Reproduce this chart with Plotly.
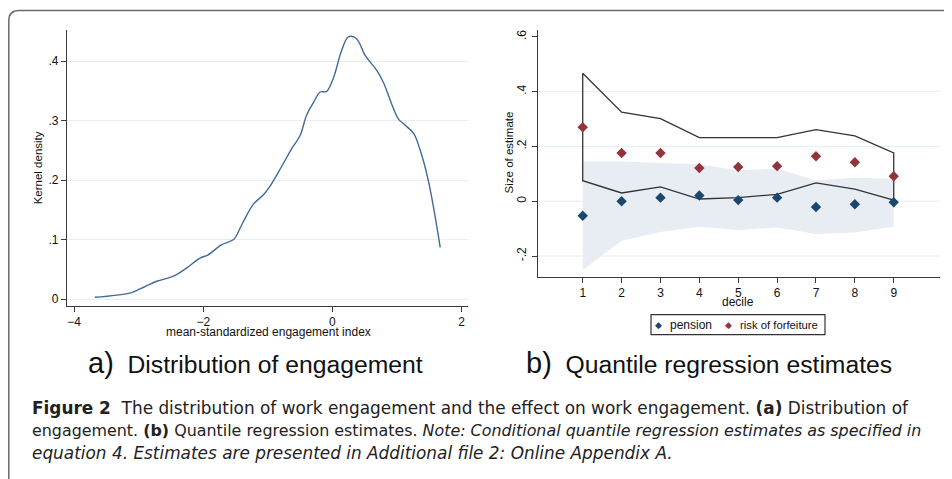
import plotly.graph_objects as go

# ---------------- data ----------------
# Panel a: kernel density of mean-standardized engagement index
kd_x = [-3.68, -3.14, -2.98, -2.72, -2.47, -2.26, -2.05, -1.93, -1.72, -1.53, -1.48,
        -1.38, -1.22, -1.07, -0.97, -0.79, -0.63, -0.50, -0.40, -0.29, -0.19, -0.09,
        0.02, 0.14, 0.25, 0.37, 0.51, 0.69, 0.79, 1.02, 1.12, 1.26, 1.36, 1.49, 1.67]
kd_y = [0.003, 0.010, 0.017, 0.030, 0.038, 0.052, 0.069, 0.074, 0.091, 0.100, 0.108,
        0.130, 0.160, 0.175, 0.189, 0.222, 0.253, 0.275, 0.309, 0.331, 0.348, 0.349,
        0.373, 0.417, 0.441, 0.438, 0.409, 0.384, 0.364, 0.303, 0.293, 0.278, 0.250,
        0.197, 0.087]
kd_xticks = [-4, -2, 0, 2]
kd_yticks = [0, 0.1, 0.2, 0.3, 0.4]
kd_yticklabels = ["0", ".1", ".2", ".3", ".4"]

# Panel b: quantile regression estimates by decile
deciles = [1, 2, 3, 4, 5, 6, 7, 8, 9]
pension = [-0.053, 0.000, 0.013, 0.021, 0.004, 0.013, -0.021, -0.011, -0.004]
pension_lo = [-0.251, -0.144, -0.112, -0.093, -0.105, -0.096, -0.120, -0.114, -0.093]
pension_hi = [0.145, 0.145, 0.139, 0.135, 0.113, 0.119, 0.076, 0.086, 0.082]
forfeit = [0.270, 0.176, 0.176, 0.121, 0.125, 0.128, 0.164, 0.142, 0.091]
forfeit_lo = [0.075, 0.030, 0.052, 0.008, 0.013, 0.025, 0.067, 0.044, 0.004]
forfeit_hi = [0.467, 0.325, 0.301, 0.232, 0.232, 0.232, 0.261, 0.238, 0.176]
qr_yticks = [-0.2, 0, 0.2, 0.4, 0.6]
qr_yticklabels = ["-.2", "0", ".2", ".4", ".6"]
qr_grid = [-0.2, 0, 0.2, 0.4]

series_names = ["pension", "risk of forfeiture"]
panel_titles = ["Distribution of engagement", "Quantile regression estimates"]

# ---------------- styling ----------------
# the page body has an 8px margin, so the figure starts at page pixel (8, 8)
OFF = 8
W, H = 944, 471
def px(x):
    return (x - OFF) / W
def py(y):
    return 1 - (y - OFF) / H

AX = "#3a3a3a"
GRID = "#e6eef3"
BLUE = "#1a476f"
RED = "#90353b"
KDLINE = "#41699a"
SHADE = "#e8edf4"
FONT = "Liberation Sans, Arial, sans-serif"
CAPFONT = "DejaVu Sans, Open Sans, sans-serif"

fig = go.Figure()

# panel a
fig.add_trace(go.Scatter(x=kd_x, y=kd_y, mode="lines", line=dict(color=KDLINE, width=1.4),
                         line_shape="spline", showlegend=False, xaxis="x", yaxis="y",
                         name="Kernel density"))

# panel b: pension CI (shaded)
fig.add_trace(go.Scatter(x=deciles + deciles[::-1], y=pension_hi + pension_lo[::-1],
                         fill="toself", fillcolor=SHADE, line=dict(width=0), mode="lines",
                         hoverinfo="skip", showlegend=False, xaxis="x2", yaxis="y2"))
# forfeiture CI (outline)
fig.add_trace(go.Scatter(x=deciles + deciles[::-1] + deciles[:1],
                         y=forfeit_hi + forfeit_lo[::-1] + forfeit_hi[:1],
                         mode="lines", line=dict(color="#333333", width=1.3),
                         hoverinfo="skip", showlegend=False, xaxis="x2", yaxis="y2"))
fig.add_trace(go.Scatter(x=deciles, y=pension, mode="markers", name=series_names[0],
                         marker=dict(symbol="diamond", size=8, color=BLUE),
                         showlegend=False, xaxis="x2", yaxis="y2"))
fig.add_trace(go.Scatter(x=deciles, y=forfeit, mode="markers", name=series_names[1],
                         marker=dict(symbol="diamond", size=8, color=RED),
                         showlegend=False, xaxis="x2", yaxis="y2"))

tickfont = dict(family=FONT, size=12, color="#111111")
axis_common = dict(showline=True, linecolor=AX, linewidth=1.4, ticks="outside",
                   ticklen=5, tickwidth=1.2, tickcolor=AX, zeroline=False,
                   tickfont=tickfont, fixedrange=True)

fig.update_layout(
    width=W, height=H, autosize=False,
    margin=dict(l=0, r=0, t=0, b=0),
    paper_bgcolor="white", plot_bgcolor="white",
    xaxis=dict(domain=[px(67), px(468)], range=[-4.11, 2.10], tickvals=kd_xticks,
               showgrid=False, anchor="y", **axis_common),
    yaxis=dict(domain=[py(306), py(29)], range=[-0.0112, 0.4524], tickvals=kd_yticks,
               ticktext=kd_yticklabels, showgrid=True, gridcolor=GRID, gridwidth=1,
               anchor="x", **axis_common),
    xaxis2=dict(domain=[px(537.7), px(940)], range=[-0.158, 10.19], tickvals=deciles,
                showgrid=False, anchor="y2", **axis_common),
    yaxis2=dict(domain=[py(276.7), py(29.3)], range=[-0.275, 0.624], tickvals=qr_yticks,
                ticktext=qr_yticklabels, tickangle=-90, showgrid=False, anchor="x2",
                ticklabelstandoff=1, **axis_common),
)

shapes = []
# gridlines panel b (none at the top tick)
for g in qr_grid:
    shapes.append(dict(type="line", xref="x2 domain", yref="y2", x0=0, x1=1, y0=g, y1=g,
                       line=dict(color=GRID, width=1), layer="below"))
# legend box
shapes.append(dict(type="rect", xref="paper", yref="paper", x0=px(651), x1=px(825),
                   y0=py(335), y1=py(315), line=dict(color="#333333", width=1.2)))
# outer rounded border
shapes.append(dict(type="path", xref="paper", yref="paper",
                   path=(f"M {px(8.8)},{py(495)} L {px(8.8)},{py(20)} "
                         f"Q {px(8.8)},{py(9.6)} {px(19)},{py(9.6)} L {px(965)},{py(9.6)}"),
                   line=dict(color="#6a6a6a", width=1.5)))
fig.update_layout(shapes=shapes)

ann = []
def add_text(text, x, y, size=12, xanchor="center", angle=0, color="#111111", family=FONT,
             yanchor="middle", align="center"):
    ann.append(dict(text=text, x=px(x), y=py(y), xref="paper", yref="paper",
                    xanchor=xanchor, yanchor=yanchor, showarrow=False, textangle=angle,
                    align=align, font=dict(family=family, size=size, color=color)))

# axis titles
add_text("mean-standardized engagement index", 268, 332, size=12)
add_text("Kernel density", 38, 168, size=11.5, angle=-90)
add_text("Size of estimate", 509, 152, size=11.5, angle=-90)
add_text("decile", 738, 302, size=12)

# legend
add_text("◆", 658, 325, size=9, color=BLUE)
add_text(series_names[0], 668, 325, size=12, xanchor="left")
add_text("◆", 728, 325, size=9, color=RED)
add_text(series_names[1], 738, 325, size=11.3, xanchor="left")

# panel subtitles
add_text("<span style='font-size:29px'>a)</span>\u00a0\u00a0" + panel_titles[0], 86, 364,
         size=24.7, xanchor="left")
add_text("<span style='font-size:29px'>b)</span>\u00a0\u00a0" + panel_titles[1], 524, 364,
         size=24.7, xanchor="left")

# caption (one block, three lines)
cap1 = ("<span style='font-size:16.9px'><b>Figure 2</b>\u00a0\u00a0The distribution of work "
        "engagement and the effect on work engagement. <b>(a)</b> Distribution of</span>")
cap2 = ("<span style='font-size:15.9px'>engagement. <b>(b)</b> Quantile regression estimates. "
        "<i>Note: Conditional quantile regression estimates as specified in</i></span>")
cap3 = ("<span style='font-size:16.9px'><i>equation 4. Estimates are presented in Additional "
        "file 2: Online Appendix A.</i></span>")
add_text(cap1 + "<br>" + cap2 + "<br>" + cap3, 30, 431, size=17.2, xanchor="left",
         color="#222222", family=CAPFONT, align="left")

fig.update_layout(annotations=ann)

fig.write_html("out.html")
